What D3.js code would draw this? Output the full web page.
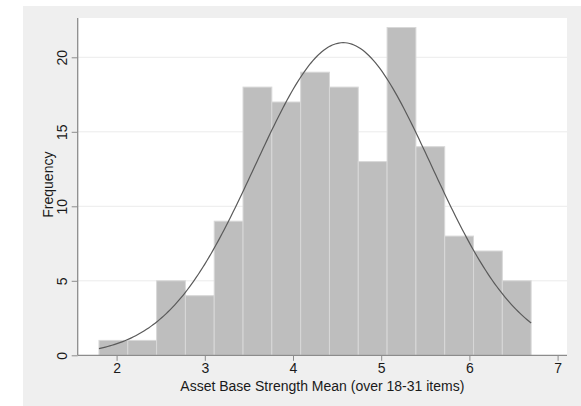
<!DOCTYPE html>
<html>
<head>
<meta charset="utf-8">
<script src="https://cdn.jsdelivr.net/npm/d3@7"></script>
<style>
  html, body { margin: 0; padding: 0; background: #ffffff; }
  svg { display: block; font-family: "Liberation Sans", Arial, sans-serif; }
</style>
</head>
<body>
<svg id="chart" width="581" height="406"></svg>
<script>
// Histogram bins: first edge, bin width and counts per bin
const binStart = 1.8;
const binWidth = 0.32667;
const counts = [1, 1, 5, 4, 9, 18, 17, 19, 18, 13, 22, 14, 8, 7, 5];

// Overlaid normal density parameters
const curveMean = 4.57;
const curveSD = 1.0;

// Axis ticks and labels
const xTicks = [2, 3, 4, 5, 6, 7];
const yTicks = [0, 5, 10, 15, 20];
const xTitle = "Asset Base Strength Mean (over 18-31 items)";
const yTitle = "Frequency";

const svg = d3.select("#chart");
const fontSize = "14px";

// Plot region
const plot = { left: 77.7, right: 567, top: 18, bottom: 355.3 };

const x = d3.scaleLinear().domain([2, 7]).range([116.6, 557.6]);
const y = d3.scaleLinear().domain([0, 20]).range([355.3, 57.3]);

// Outer graph background
svg.append("rect")
  .attr("x", 23).attr("y", 6).attr("width", 581 - 23).attr("height", 406 - 6)
  .attr("fill", "#efefef");

// Plot background
svg.append("rect")
  .attr("x", plot.left).attr("y", plot.top)
  .attr("width", plot.right - plot.left).attr("height", plot.bottom - plot.top)
  .attr("fill", "#ffffff");

// Horizontal grid lines
svg.append("g")
  .selectAll("line")
  .data(yTicks.filter(d => d > 0))
  .join("line")
  .attr("x1", plot.left).attr("x2", plot.right)
  .attr("y1", d => y(d)).attr("y2", d => y(d))
  .attr("stroke", "#ececec").attr("stroke-width", 1);

// Histogram bars
const bins = counts.map((c, i) => ({
  x0: binStart + i * binWidth,
  x1: binStart + (i + 1) * binWidth,
  count: c
}));

svg.append("g")
  .selectAll("rect")
  .data(bins)
  .join("rect")
  .attr("x", d => x(d.x0))
  .attr("width", d => x(d.x1) - x(d.x0))
  .attr("y", d => y(d.count))
  .attr("height", d => y(0) - y(d.count))
  .attr("fill", "#bebebe")
  .attr("stroke", "#d8d8d8")
  .attr("stroke-width", 1);

// Normal density scaled to frequency
const total = d3.sum(counts);
const scaleF = total * binWidth;
const xEnd = binStart + counts.length * binWidth;
const curvePts = d3.range(0, 201).map(i => {
  const xv = binStart + (xEnd - binStart) * i / 200;
  const z = (xv - curveMean) / curveSD;
  return [xv, scaleF * Math.exp(-0.5 * z * z) / (curveSD * Math.sqrt(2 * Math.PI))];
});

svg.append("path")
  .datum(curvePts)
  .attr("d", d3.line().x(d => x(d[0])).y(d => y(d[1])))
  .attr("fill", "none")
  .attr("stroke", "#5a5a5a")
  .attr("stroke-width", 1.2);

// Axes
const axisColor = "#8c8c8c";
const textColor = "#1a1a1a";

const xAxis = svg.append("g")
  .attr("transform", `translate(0,${plot.bottom})`)
  .call(d3.axisBottom(x).tickValues(xTicks).tickFormat(d3.format("d"))
    .tickSize(5.5).tickPadding(2).tickSizeOuter(0));
xAxis.select(".domain").remove();
xAxis.append("line")
  .attr("x1", plot.left).attr("x2", plot.right)
  .attr("stroke", axisColor).attr("stroke-width", 1.3);
xAxis.selectAll(".tick line").attr("stroke", axisColor);
xAxis.selectAll(".tick text")
  .attr("fill", textColor)
  .style("font-size", fontSize)
  .style("font-family", "'Liberation Sans', Arial, sans-serif");

const yAxis = svg.append("g")
  .attr("transform", `translate(${plot.left},0)`)
  .call(d3.axisLeft(y).tickValues(yTicks).tickFormat(d3.format("d"))
    .tickSize(6).tickSizeOuter(0));
yAxis.select(".domain").remove();
yAxis.append("line")
  .attr("y1", plot.top).attr("y2", plot.bottom)
  .attr("stroke", axisColor).attr("stroke-width", 1.3);
yAxis.selectAll(".tick line").attr("stroke", axisColor);
yAxis.selectAll(".tick text")
  .attr("x", 0).attr("y", 0).attr("dy", 0)
  .attr("text-anchor", "middle")
  .attr("transform", "translate(-11,0) rotate(-90)")
  .attr("fill", textColor)
  .style("font-size", fontSize)
  .style("font-family", "'Liberation Sans', Arial, sans-serif");

// Axis titles
svg.append("text")
  .attr("x", (plot.left + plot.right) / 2)
  .attr("y", 390.5)
  .attr("text-anchor", "middle")
  .attr("fill", textColor)
  .style("font-size", fontSize)
  .text(xTitle);

svg.append("text")
  .attr("transform", `translate(52.5,${(plot.top + plot.bottom) / 2 - 2}) rotate(-90)`)
  .attr("text-anchor", "middle")
  .attr("fill", textColor)
  .style("font-size", fontSize)
  .text(yTitle);
</script>
</body>
</html>
